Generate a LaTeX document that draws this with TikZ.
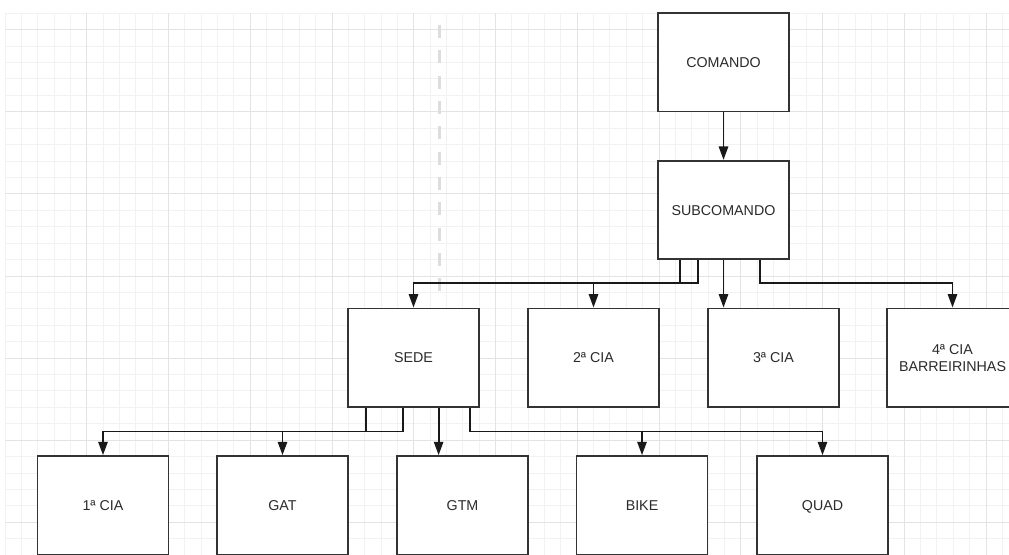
\documentclass[tikz,border=0pt]{standalone}
\usepackage{fontspec}
\setmainfont{Liberation Sans}
\usetikzlibrary{arrows.meta,calc}
\definecolor{gridminor}{HTML}{F2F2F2}
\definecolor{gridmajor}{HTML}{E3E3E3}
\definecolor{boxline}{HTML}{333333}
\definecolor{txt}{HTML}{2B2B2B}
\definecolor{guide}{HTML}{DDDDDD}
\begin{document}
\begin{tikzpicture}[x=0.75pt,y=-0.75pt,
  box/.style={draw=boxline, line width=1.35pt, fill=white, minimum width=98.25pt, minimum height=73.9pt, inner sep=0pt, font=\fontsize{10.7}{12.8}\selectfont, text=txt, align=center},
  oneline/.style={text height=7.7pt, text depth=0pt},
  conn/.style={draw=black!90, line width=1.35pt, -{Triangle[length=10pt,width=7pt]}},
  gridmin/.style={draw=gridminor, line width=0.75pt},
  gridmaj/.style={draw=gridmajor, line width=0.75pt}]
\useasboundingbox (0,0) rectangle (1009,555);
\fill[white] (0,0) rectangle (1009,555);
% grid
\foreach \i in {0,...,61} \draw[gridmin] ({5+16.35*\i},13.3) -- ({5+16.35*\i},555);
\foreach \j in {0,...,32} \draw[gridmin] (5,{13.3+16.42*\j}) -- (1009,{13.3+16.42*\j});
\foreach \i in {5,10,...,60} \draw[gridmaj] ({5+16.35*\i},13.3) -- ({5+16.35*\i},555);
\foreach \j in {1,6,...,31} \draw[gridmaj] (5,{13.3+16.42*\j}) -- (1009,{13.3+16.42*\j});
% guide
\draw[guide, line width=2.6pt, dash pattern=on 9.75pt off 9.25pt] (439.5,25) -- (439.5,293);
% nodes
\node[box,oneline] (cmd) at (723.5,62.2) {COMANDO};
\node[box,oneline] (sub) at (723.5,210) {SUBCOMANDO};
\node[box,oneline] (sede) at (413.5,357.7) {SEDE};
\node[box,oneline] (c2) at (593.5,357.7) {2ª CIA};
\node[box,oneline] (c3) at (773.5,357.7) {3ª CIA};
\node[box] (c4) at (952.5,357.7) {4ª CIA\\BARREIRINHAS};
\node[box,oneline] (c1) at (103,505.3) {1ª CIA};
\node[box,oneline] (gat) at (282.5,505.3) {GAT};
\node[box,oneline] (gtm) at (462.5,505.3) {GTM};
\node[box,oneline] (bike) at (642,505.3) {BIKE};
\node[box,oneline] (quad) at (822.5,505.3) {QUAD};
% connectors
\coordinate (h1) at (0,283);
\coordinate (h2) at (0,431.5);
\draw[conn] (cmd.south) -- (sub.north);
\draw[conn] ($(sub.south west)+(23,0)$) |- (sede.north |- h1) -- (sede.north);
\draw[conn] ($(sub.south west)+(41,0)$) |- (c2.north |- h1) -- (c2.north);
\draw[conn] (sub.south) -- (sub.south |- c3.north);
\draw[conn] ($(sub.south east)+(-30,0)$) |- (c4.north |- h1) -- (c4.north);
\draw[conn] ($(sede.south west)+(19,0)$) |- (c1.north |- h2) -- (c1.north);
\draw[conn] ($(sede.south west)+(56,0)$) |- (gat.north |- h2) -- (gat.north);
\draw[conn] ($(sede.south west)+(91.5,0)$) coordinate (g0) -- (g0 |- gtm.north);
\draw[conn] ($(sede.south east)+(-10,0)$) |- (bike.north |- h2) -- (bike.north);
\draw[conn] ($(sede.south east)+(-10,0)$) |- (quad.north |- h2) -- (quad.north);
\end{tikzpicture}
\end{document}
